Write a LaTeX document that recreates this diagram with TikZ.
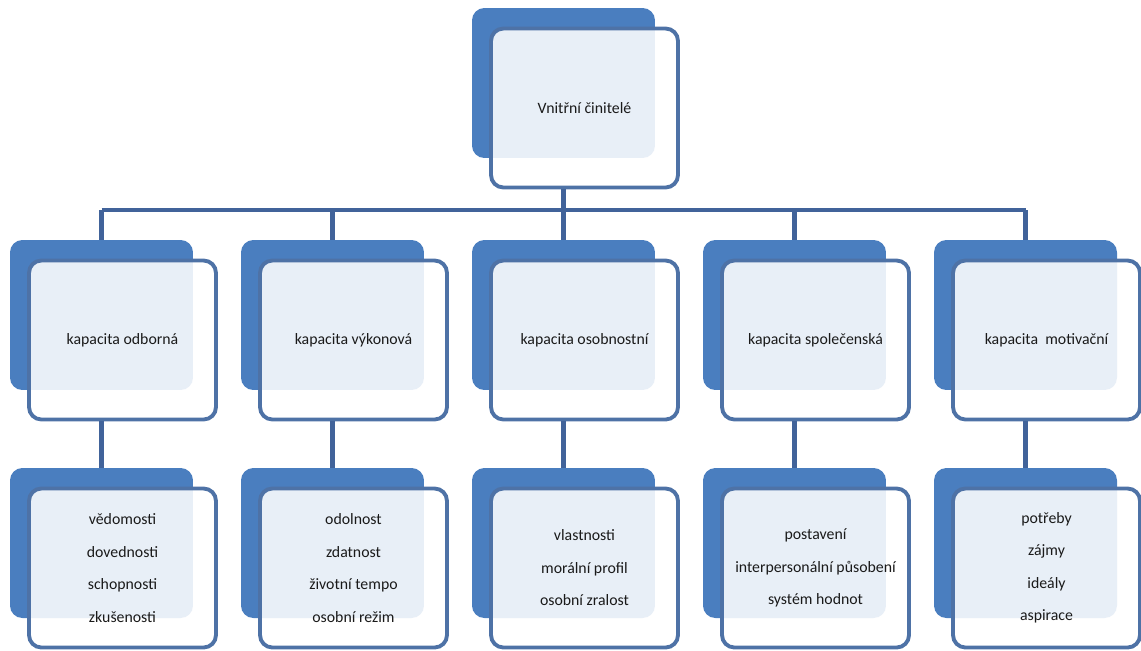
\documentclass[tikz,border=0pt]{standalone}
\usepackage{fontspec}
\setmainfont{Carlito}
\usetikzlibrary{positioning}
\definecolor{shadeblue}{HTML}{4A7EBF}
\definecolor{edgeblue}{HTML}{4E72A6}
\definecolor{linkblue}{HTML}{41639A}
\definecolor{textgray}{HTML}{1A1A1A}

\begin{document}
\begin{tikzpicture}[
    x=0.02cm, y=-0.02cm,
    shadebox/.style={
        rectangle,
        rounded corners=7pt,
        minimum width=3.66cm,
        minimum height=3.0cm,
        inner sep=0pt,
        fill=shadeblue,
    },
    cardbox/.style={
        rectangle,
        rounded corners=7pt,
        minimum width=3.74cm,
        minimum height=3.18cm,
        draw=edgeblue,
        line width=2.2pt,
        fill=white,
        fill opacity=0.88,
        text opacity=1,
        text=textgray,
        align=center,
        xshift=0.42cm,
        yshift=-0.5cm,
        font=\fontsize{9}{18.5}\selectfont,
    },
    link/.style={
        linkblue,
        line width=2.3pt,
    },
]

% Page frame
\useasboundingbox (0,0) rectangle (1141,650);

% Shadow boxes
\node[shadebox] (topS) at (563.5,83) {};
\node[shadebox] (odbS) at (101.5,315) {};
\node[shadebox] (vykS) at (332.5,315) {};
\node[shadebox] (osoS) at (563.5,315) {};
\node[shadebox] (spoS) at (794.5,315) {};
\node[shadebox] (motS) at (1025.5,315) {};
\node[shadebox] (odbLS) at (101.5,543) {};
\node[shadebox] (vykLS) at (332.5,543) {};
\node[shadebox] (osoLS) at (563.5,543) {};
\node[shadebox] (spoLS) at (794.5,543) {};
\node[shadebox] (motLS) at (1025.5,543) {};

% Cards
\node[cardbox] (top) at (topS) {Vnitřní činitelé};
\node[cardbox] (odb) at (odbS) {kapacita odborná};
\node[cardbox] (vyk) at (vykS) {kapacita výkonová};
\node[cardbox] (oso) at (osoS) {kapacita osobnostní};
\node[cardbox] (spo) at (spoS) {kapacita společenská};
\node[cardbox] (mot) at (motS) {kapacita\ \ motivační};
\node[cardbox] (odbL) at (odbLS) {vědomosti\\dovednosti\\schopnosti\\zkušenosti};
\node[cardbox] (vykL) at (vykLS) {odolnost\\zdatnost\\životní tempo\\osobní režim};
\node[cardbox] (osoL) at (osoLS) {vlastnosti\\morální profil\\osobní zralost};
\node[cardbox] (spoL) at (spoLS) {postavení\\interpersonální působení\\systém hodnot};
\node[cardbox] (motL) at (motLS) {potřeby\\zájmy\\ideály\\aspirace};

% Tree lines
\coordinate (bar) at (0,210);
\draw[link] (topS |- top.south) -- (topS |- bar);
\draw[link] (odbS |- bar) -- (motS |- bar);
\draw[link] (odbS |- bar) -- (odbS.north);
\draw[link] (vykS |- bar) -- (vykS.north);
\draw[link] (osoS |- bar) -- (osoS.north);
\draw[link] (spoS |- bar) -- (spoS.north);
\draw[link] (motS |- bar) -- (motS.north);

% Lower lines
\draw[link] (odbS |- odb.south) -- (odbLS.north);
\draw[link] (vykS |- vyk.south) -- (vykLS.north);
\draw[link] (osoS |- oso.south) -- (osoLS.north);
\draw[link] (spoS |- spo.south) -- (spoLS.north);
\draw[link] (motS |- mot.south) -- (motLS.north);

\end{tikzpicture}
\end{document}
